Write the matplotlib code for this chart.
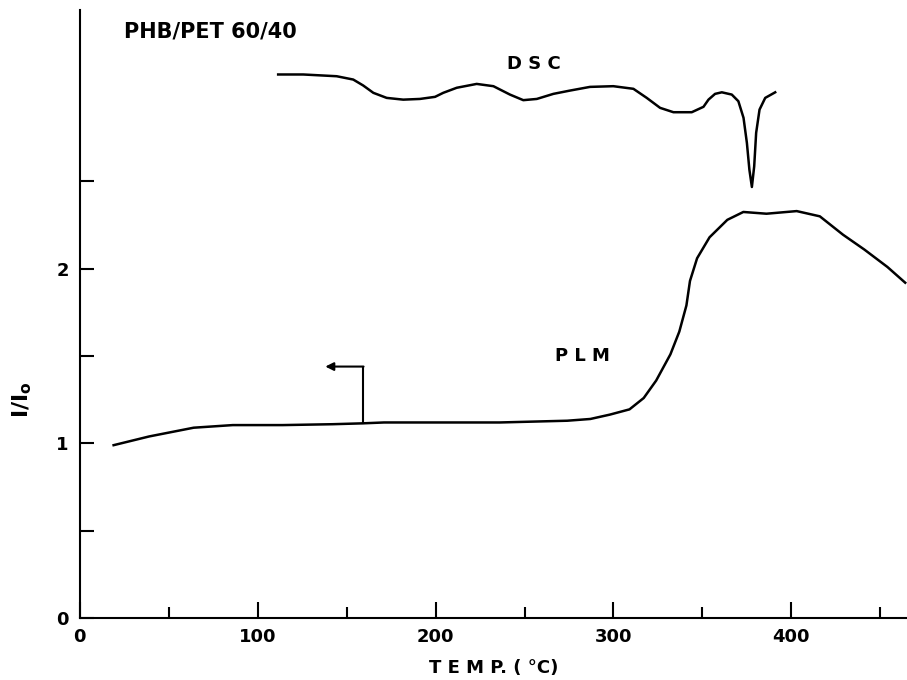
import matplotlib.pyplot as plt
from matplotlib.ticker import FixedLocator

# PLM intensity ratio vs temperature
plm_t = [19, 39, 64, 86, 114, 142, 159, 171, 199, 236, 274, 287, 298, 309,
         317, 324, 332, 337, 341, 343, 347, 354, 364, 373, 386, 403, 416,
         429, 441, 454, 464]
plm_i = [0.99, 1.04, 1.09, 1.105, 1.105, 1.11, 1.115, 1.12, 1.12, 1.12,
         1.13, 1.14, 1.165, 1.195, 1.26, 1.36, 1.51, 1.64, 1.79, 1.93, 2.06,
         2.18, 2.28, 2.325, 2.315, 2.33, 2.30, 2.195, 2.11, 2.01, 1.92]

# DSC trace (arbitrary units, drawn on the same axes)
dsc_t = [111.5, 125.6, 144.4, 153.7, 159.3, 165.0, 172.5, 181.8, 191.2,
         199.7, 204.3, 211.9, 223.1, 232.5, 241.8, 249.3, 256.9, 266.2,
         275.6, 286.8, 299.9, 311.2, 318.7, 326.2, 333.7, 344.0, 350.6,
         353.4, 357.1, 360.9, 366.5, 370.2, 373.1, 375.0, 376.4, 377.8,
         379.1, 380.2, 382.1, 385.3, 390.9]
dsc_y = [3.112, 3.112, 3.102, 3.083, 3.049, 3.007, 2.978, 2.968, 2.972,
         2.984, 3.007, 3.036, 3.058, 3.045, 2.997, 2.965, 2.972, 3.001,
         3.020, 3.041, 3.045, 3.030, 2.978, 2.921, 2.896, 2.896, 2.927,
         2.968, 3.001, 3.010, 2.997, 2.959, 2.864, 2.720, 2.567, 2.468,
         2.586, 2.778, 2.911, 2.978, 3.010]

plt.rcParams['font.family'] = ['DejaVu Sans']
plt.rcParams['font.weight'] = 'bold'
plt.rcParams['mathtext.default'] = 'regular'

fig = plt.figure(figsize=(9.07, 6.80), dpi=100)
ax = fig.add_axes([0.088, 0.091, 0.912, 0.894])

ax.plot(plm_t, plm_i, color='black', lw=1.8, solid_joinstyle='round')
ax.plot(dsc_t, dsc_y, color='black', lw=1.8, solid_joinstyle='round')

# arrow pointing to the left-hand axis
ax.plot([159, 159], [1.115, 1.44], color='black', lw=1.5)
ax.annotate('', xy=(138, 1.44), xytext=(159.5, 1.44),
            arrowprops=dict(arrowstyle='-|>', color='black', lw=1.5,
                            mutation_scale=12, shrinkA=0, shrinkB=0))

ax.text(25, 3.36, 'PHB/PET 60/40', fontsize=15, fontweight='bold', va='center')
ax.text(240, 3.17, 'D S C', fontsize=13, fontweight='bold', va='center')
ax.text(267, 1.50, 'P L M', fontsize=13, fontweight='bold', va='center')

ax.set_xlim(0, 465)
ax.set_ylim(0, 3.48)

ax.spines['top'].set_visible(False)
ax.spines['right'].set_visible(False)
ax.spines['left'].set_linewidth(1.5)
ax.spines['bottom'].set_linewidth(1.5)

ax.xaxis.set_major_locator(FixedLocator([0, 100, 200, 300, 400]))
ax.xaxis.set_minor_locator(FixedLocator([50, 150, 250, 350, 450]))
ax.yaxis.set_major_locator(FixedLocator([0, 1, 2]))
ax.yaxis.set_minor_locator(FixedLocator([0.5, 1.5, 2.5]))

ax.tick_params(axis='x', which='major', direction='in', length=11.5,
               width=1.5, labelsize=13, pad=7)
ax.tick_params(axis='x', which='minor', direction='in', length=8, width=1.5)
ax.tick_params(axis='y', which='both', direction='in', length=10,
               width=1.5, labelsize=13, pad=8)

ax.set_xlabel('T E M P. ( °C)', fontsize=13, fontweight='bold')
ax.xaxis.set_label_coords(0.5, -0.068)
ax.text(-0.07, 0.36, 'I/I$_o$', transform=ax.transAxes,
        rotation=90, fontsize=16, fontweight='bold', ha='center', va='center')

fig.savefig('out.png', dpi=100)
